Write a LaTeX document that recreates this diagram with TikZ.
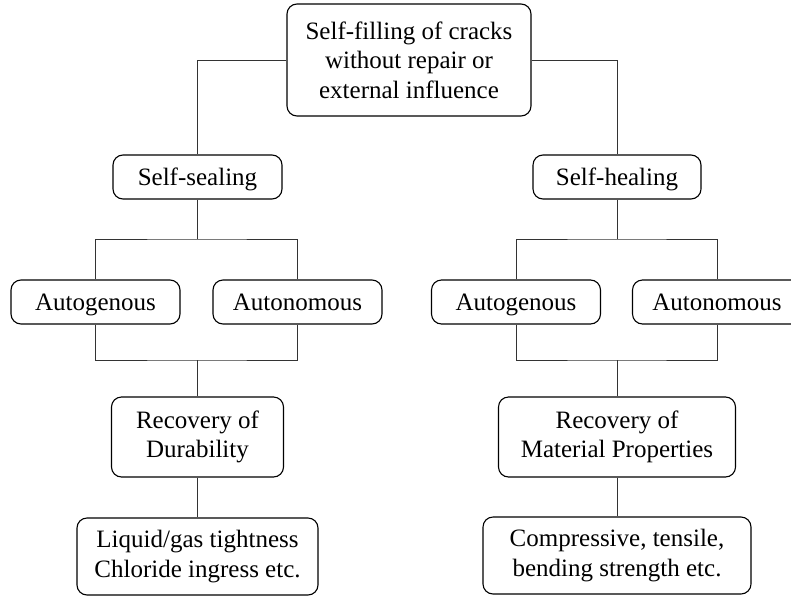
\documentclass[tikz,border=0pt]{standalone}
\usepackage{fontspec}
\setmainfont{Liberation Serif}
\begin{document}
\begin{tikzpicture}[x=1pt,y=-1pt,
  box/.style={draw=black, line width=1.1pt, rounded corners=10pt, align=center,
    inner sep=0pt, font=\fontsize{25}{29.5}\selectfont},
  onebox/.style={box, minimum height=44pt, text height=18pt, text depth=2pt},
  twobox/.style={box},
  conn/.style={draw=black!80, line width=0.9pt}]
\clip (0,0) rectangle (791,597);
\node[box, minimum width=244pt, minimum height=112pt] (top) at (409,60) {Self-filling of cracks\\without repair or\\external influence};
\node[onebox, minimum width=169pt] (ss) at (197.5,177) {Self-sealing};
\node[onebox, minimum width=168pt] (sh) at (617,177) {Self-healing};
\node[onebox, minimum width=169pt] (ag1) at (95.5,302) {Autogenous};
\node[onebox, minimum width=169pt] (an1) at (297.5,302) {Autonomous};
\node[onebox, minimum width=169pt] (ag2) at (516,302) {Autogenous};
\node[onebox, minimum width=169pt] (an2) at (717,302) {Autonomous};
\node[twobox, minimum width=172pt, minimum height=80pt] (rd) at (197.5,437) {Recovery of\\Durability};
\node[twobox, minimum width=237pt, minimum height=80pt] (rm) at (617,437) {Recovery of\\Material Properties};
\node[twobox, minimum width=241pt, minimum height=77pt] (lq) at (197.5,556.5) {Liquid/gas tightness\\Chloride ingress etc.};
\node[twobox, minimum width=268pt, minimum height=77pt] (cp) at (617,555.5) {Compressive, tensile,\\bending strength etc.};
\coordinate (j1) at (197.5,239);
\coordinate (k1) at (197.5,360);
\coordinate (j2) at (617,239);
\coordinate (k2) at (617,360);
\draw[conn] (top.west) -| (ss.north);
\draw[conn] (top.east) -| (sh.north);
\draw[conn] (ss.south) -- (j1);
\draw[conn] (ag1.north) |- (j1) -| (an1.north);
\draw[conn] (ag1.south) |- (k1) -| (an1.south);
\draw[conn] (k1) -- (rd.north);
\draw[conn] (rd.south) -- (lq.north);
\draw[conn] (sh.south) -- (j2);
\draw[conn] (ag2.north) |- (j2) -| (an2.north);
\draw[conn] (ag2.south) |- (k2) -| (an2.south);
\draw[conn] (k2) -- (rm.north);
\draw[conn] (rm.south) -- (cp.north);
\end{tikzpicture}
\end{document}
